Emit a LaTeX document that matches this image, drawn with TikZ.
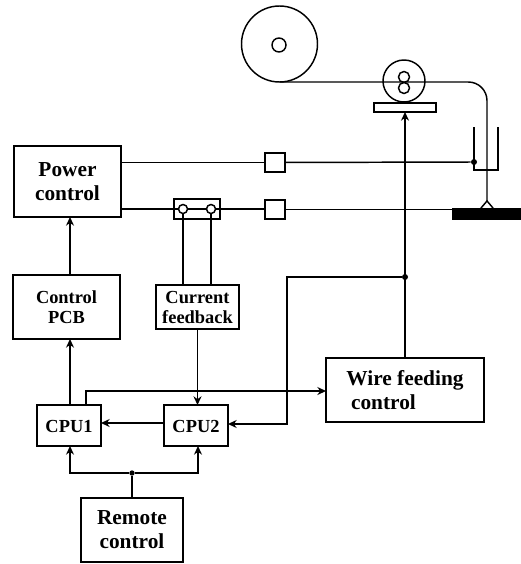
\documentclass[tikz,border=0pt]{standalone}
\usepackage{fontspec}
\setmainfont{Liberation Serif}
\usetikzlibrary{arrows.meta, calc}
\tikzset{
    >={Stealth[length=6.5pt,width=6pt]},
    wire/.style={line width=1.1pt},
    box/.style={draw, line width=1.2pt, inner sep=0pt, outer sep=0pt, align=center, font=\bfseries},
    bigbox/.style={box, font=\fontsize{16}{18}\selectfont\bfseries},
    smallbox/.style={box, font=\fontsize{13.8}{15}\selectfont\bfseries},
    ring/.style={draw, circle, line width=1.1pt, inner sep=0pt, outer sep=0pt},
    dot/.style={fill, circle, inner sep=0pt, minimum size=4.5pt}
}
\begin{document}
\begin{tikzpicture}[x=0.75pt, y=-0.75pt]
    \useasboundingbox (0, 0) rectangle (521, 564);
    \node[bigbox, minimum width=80.25pt, minimum height=53.25pt] (power) at (67.5, 181.5) {Power\\control};
    \node[smallbox, minimum width=80.25pt, minimum height=48pt] (pcb) at (66.5, 307) {Control\\PCB};
    \node[smallbox, minimum width=62.25pt, minimum height=33pt] (feedback) at (197.5, 307) {Current\\feedback};
    \node[box, minimum width=34.5pt, minimum height=15pt] (shunt) at (197, 209) {};
    \node[smallbox, text height=11pt, minimum width=48pt, minimum height=30.75pt] (cpuA) at (69, 425.5) {CPU1};
    \node[smallbox, text height=11pt, minimum width=48pt, minimum height=30.75pt] (cpuB) at (196, 425.5) {CPU2};
    \node[bigbox, align=left, minimum width=118.5pt, minimum height=48pt] (feeding) at (405, 390) {Wire feeding\\\hspace{3.5pt}control};
    \node[bigbox, minimum width=76.5pt, minimum height=48pt] (remote) at (132, 530) {Remote\\control};
    \node[box, minimum width=15pt, minimum height=14.25pt] (gateA) at (275, 162.5) {};
    \node[box, minimum width=15pt, minimum height=14.25pt] (gateB) at (275, 209.5) {};
    \node[box, line width=1.1pt, minimum width=46.5pt, minimum height=6.75pt] (plate) at (405, 107.5) {};
    \node[ring, minimum size=57pt] (reel) at (279.5, 44) {};
    \node[ring, minimum size=10.5pt] (hub) at (279, 45) {};
    \node[ring, minimum size=31.5pt] (roller) at (404, 81) {};
    \node[ring, minimum size=8.25pt] (slotA) at (404, 77) {};
    \node[ring, minimum size=8.25pt] (slotB) at (404, 88) {};
    \node[ring, fill=white, minimum size=6.75pt] (termA) at (183, 209) {};
    \node[ring, fill=white, minimum size=6.75pt] (termB) at (211, 209) {};
    \node[dot] (contact) at (474, 162) {};
    \node[dot] (branch) at (405, 277) {};
    \node[dot, minimum size=4pt] (split) at (132, 473) {};
    \coordinate (arc) at (487, 201);
    \coordinate (footA) at (481, 208);
    \coordinate (footB) at (493, 208);
    \coordinate (corner) at (287, 277);
    \fill (452, 208) rectangle (521, 220);
    \draw[wire] (power.east |- gateA) -- (gateA);
    \draw[wire] (gateA) -- (contact);
    \draw[wire] (power.east |- termA) -- (termA) -- (termB) -- (gateB.west |- termB);
    \draw[wire] (gateB) -- (452, 209.5);
    \draw[wire] (termA) -- (termA |- feedback.north);
    \draw[wire] (termB) -- (termB |- feedback.north);
    \draw[wire, rounded corners=14pt] (reel.south) -- (arc |- reel.south) -- (arc);
    \draw[wire] (footA) -- (arc) -- (footB);
    \draw[wire] (474, 127) -- (474, 170) -- (498, 170) -- (498, 127);
    \draw[wire, ->] (plate.south |- feeding.north) -- (plate.south);
    \draw[wire, ->] (branch) -- (corner) -- (corner |- 0, 424) -- (cpuB.east |- 0, 424);
    \draw[wire, ->] (pcb.north -| 70, 0) -- (power.south -| 70, 0);
    \draw[wire, ->] (cpuA.north -| 70, 0) -- (pcb.south -| 70, 0);
    \draw[wire, ->] (feedback.south) -- (feedback.south |- cpuB.north);
    \draw[wire, ->] (cpuA.north -| 86, 0) -- (86, 391) -- (feeding.west |- 0, 391);
    \draw[wire, ->] (cpuB.west |- 0, 423) -- (cpuA.east |- 0, 423);
    \draw[wire] (remote.north) -- (split);
    \draw[wire, ->] (split) -- (70, 473) -- (cpuA.south -| 70, 0);
    \draw[wire, ->] (split) -- (198, 473) -- (cpuB.south -| 198, 0);
\end{tikzpicture}
\end{document}
